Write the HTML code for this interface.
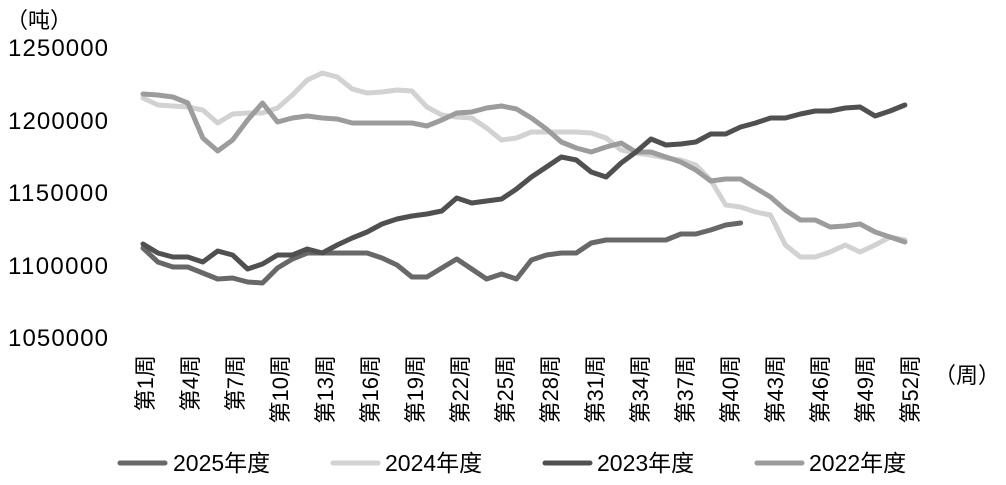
<!DOCTYPE html>
<html><head><meta charset="utf-8"><style>
html,body{margin:0;padding:0;background:#fff;width:1006px;height:485px;overflow:hidden}
svg text{font-family:"Liberation Sans","Noto Sans CJK SC",sans-serif;fill:#000}
svg text.cjk{font-family:"Noto Sans CJK SC",sans-serif}
</style></head><body>
<svg id="s" width="1006" height="485" viewBox="0 0 1006 485" xmlns="http://www.w3.org/2000/svg">
<text class="cjk" x="6" y="28" font-size="22">（吨）</text>
<g font-size="24" text-anchor="end" textLength="100">
<text x="108" y="56" textLength="100">1250000</text>
<text x="108" y="129" textLength="100">1200000</text>
<text x="108" y="201" textLength="100">1150000</text>
<text x="108" y="274" textLength="100">1100000</text>
<text x="108" y="346" textLength="100">1050000</text>
</g>
<g font-size="22" text-anchor="end">
<text transform="translate(153,355) rotate(-90)">第1周</text>
<text transform="translate(198,355) rotate(-90)">第4周</text>
<text transform="translate(243,355) rotate(-90)">第7周</text>
<text transform="translate(288,355) rotate(-90)">第10周</text>
<text transform="translate(333,355) rotate(-90)">第13周</text>
<text transform="translate(378,355) rotate(-90)">第16周</text>
<text transform="translate(423,355) rotate(-90)">第19周</text>
<text transform="translate(468,355) rotate(-90)">第22周</text>
<text transform="translate(513,355) rotate(-90)">第25周</text>
<text transform="translate(558,355) rotate(-90)">第28周</text>
<text transform="translate(603,355) rotate(-90)">第31周</text>
<text transform="translate(648,355) rotate(-90)">第34周</text>
<text transform="translate(693,355) rotate(-90)">第37周</text>
<text transform="translate(738,355) rotate(-90)">第40周</text>
<text transform="translate(783,355) rotate(-90)">第43周</text>
<text transform="translate(828,355) rotate(-90)">第46周</text>
<text transform="translate(873,355) rotate(-90)">第49周</text>
<text transform="translate(918,355) rotate(-90)">第52周</text>
</g>
<text class="cjk" x="934" y="383" font-size="22">（周）</text>
<g stroke-width="5" stroke-linecap="round">
<line x1="120" y1="463" x2="165" y2="463" stroke="#686868"/>
<line x1="333" y1="463" x2="378" y2="463" stroke="#d2d2d2"/>
<line x1="545" y1="463" x2="590" y2="463" stroke="#505050"/>
<line x1="757" y1="463" x2="802" y2="463" stroke="#9c9c9c"/>
</g>
<g font-size="23">
<text x="173" y="471">2025年度</text>
<text x="385" y="471">2024年度</text>
<text x="597" y="471">2023年度</text>
<text x="809" y="471">2022年度</text>
</g>
<g id="lines" fill="none" stroke-width="5" stroke-linejoin="round" stroke-linecap="round"></g>
</svg>
<script>
var d=[
["#d2d2d2",[98,105,106,107,110,123,114,113,113,108,95,80,73,77,89,93,92,90,91,107,115,117,118,128,140,138,132,132,132,132,133,138,150,153,155,158,160,165,180,205,207,212,215,245,257,257,252,245,252,245,237,240]],
["#9c9c9c",[94,95,97,103,138,151,140,120,103,122,118,116,118,119,123,123,123,123,123,126,120,113,112,108,106,109,118,129,142,148,152,147,143,152,152,157,162,170,181,179,179,188,197,210,220,220,227,226,224,232,237,242]],
["#686868",[248,262,267,267,273,279,278,282,283,268,259,253,253,253,253,253,258,265,277,277,268,259,269,279,274,279,260,255,253,253,243,240,240,240,240,240,234,234,230,225,223]],
["#505050",[244,253,257,257,262,251,255,269,264,255,255,249,253,245,238,232,224,219,216,214,211,198,203,201,199,189,177,167,157,160,172,177,163,152,139,145,144,142,134,134,127,123,118,118,114,111,111,108,107,116,111,105]]
];
var g=document.getElementById("lines");
d.forEach(function(s){var p=s[1].map(function(y,i){return (143+14.94*i).toFixed(1)+","+y}).join(" ");
var e=document.createElementNS("http://www.w3.org/2000/svg","polyline");e.setAttribute("points",p);e.setAttribute("stroke",s[0]);g.appendChild(e);});
</script>
</body></html>
